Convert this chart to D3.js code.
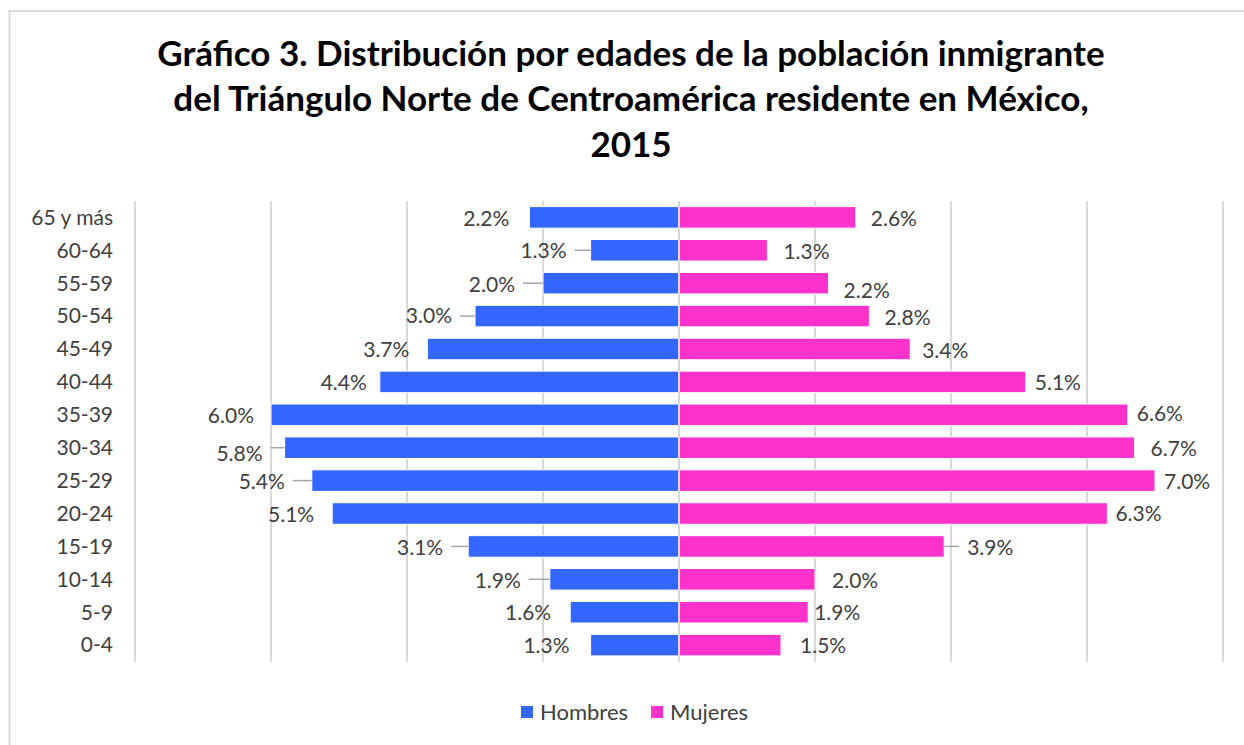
<!DOCTYPE html>
<html>
<head>
<meta charset="utf-8">
<script src="https://cdn.jsdelivr.net/npm/d3@7"></script>
<style>
  html, body { margin: 0; padding: 0; background: #ffffff; }
  svg { display: block; }
</style>
</head>
<body>
<svg id="chart" width="1244" height="745"></svg>
<script>
// ---- Data (top row to bottom row as displayed) ----
const categories = ["65 y más","60-64","55-59","50-54","45-49","40-44","35-39","30-34","25-29","20-24","15-19","10-14","5-9","0-4"];
const hombres = [2.2, 1.3, 2.0, 3.0, 3.7, 4.4, 6.0, 5.8, 5.4, 5.1, 3.1, 1.9, 1.6, 1.3];
const mujeres = [2.6, 1.3, 2.2, 2.8, 3.4, 5.1, 6.6, 6.7, 7.0, 6.3, 3.9, 2.0, 1.9, 1.5];
const seriesNames = ["Hombres", "Mujeres"];
const xTicks = [-8, -6, -4, -2, 0, 2, 4, 6, 8];
const titleLines = [
  "Gráfico 3. Distribución por edades de la población inmigrante",
  "del Triángulo Norte de Centroamérica residente en México,",
  "2015"
];

// ---- Data-label placement (as in the original spreadsheet chart) ----
const hLabelGap = [20, 24, 28, 23, 18, 13, 17, 22, 27, 18, 25, 29, 19, 21];
const hLeader   = [0, 1, 1, 1, 0, 0, 0, 1, 1, 0, 1, 1, 0, 0];
const hLabelDy  = [1, 0, 1, 0, 1, 1, 1, 6, 1, 1, 1, 1, 0, 1];
const mLabelGap = [15, 16, 15, 15, 12, 9, 9, 16, 9, 8, 23, 17, 6, 19];
const mLeader   = [0, 0, 0, 0, 0, 0, 0, 0, 0, 0, 1, 0, 0, 0];
const mLabelDy  = [1, 1, 7, 2, 2, 1, -1, 1, 1, 0, 1, 1, 0, 1];

const colors = { Hombres: "#3366FF", Mujeres: "#FF33CC" };
const textColor = "#404040";
const gridColor = "#D9D9D9";
const fontFamily = "Lato, 'Open Sans', sans-serif";

const svg = d3.select("#chart");

// chart area border (right and bottom edges lie outside the picture)
svg.append("rect")
  .attr("x", 9.5).attr("y", 11)
  .attr("width", 1260).attr("height", 760)
  .attr("fill", "#ffffff")
  .attr("stroke", gridColor).attr("stroke-width", 2);

// ---- Scales ----
const x = d3.scaleLinear().domain([-8, 8]).range([135, 1223]);
const y = d3.scaleBand().domain(categories).range([201, 661.5]).paddingInner(0.345).paddingOuter(0.17);

// ---- Gridlines ----
svg.append("g").selectAll("line").data(xTicks).join("line")
  .attr("x1", d => x(d)).attr("x2", d => x(d))
  .attr("y1", 201).attr("y2", 662)
  .attr("stroke", gridColor).attr("stroke-width", 2);

// ---- Category axis (labels only) ----
const yAxis = d3.axisLeft(y).tickSize(0).tickPadding(0);
const yg = svg.append("g").attr("transform", "translate(113,0)").call(yAxis);
yg.select(".domain").remove();
yg.selectAll("text")
  .attr("fill", textColor)
  .style("font-family", fontFamily)
  .style("font-size", "21px")
  .attr("dy", "0.35em");

// ---- Bars ----
const bh = y.bandwidth();
svg.append("g").selectAll("rect").data(hombres).join("rect")
  .attr("x", d => x(-d))
  .attr("y", (d, i) => y(categories[i]))
  .attr("width", d => x(0) - x(-d))
  .attr("height", bh)
  .attr("fill", colors.Hombres)
  .attr("stroke", "#ffffff").attr("stroke-width", 1);

svg.append("g").selectAll("rect").data(mujeres).join("rect")
  .attr("x", x(0))
  .attr("y", (d, i) => y(categories[i]))
  .attr("width", d => x(d) - x(0))
  .attr("height", bh)
  .attr("fill", colors.Mujeres)
  .attr("stroke", "#ffffff").attr("stroke-width", 1);

// center axis line over bars
svg.append("line")
  .attr("x1", x(0)).attr("x2", x(0))
  .attr("y1", 201).attr("y2", 662)
  .attr("stroke", gridColor).attr("stroke-width", 2);

// ---- Data labels ----
const fmt = d => d.toFixed(1) + "%";
const hl = svg.append("g");
hombres.forEach((d, i) => {
  const cy = y(categories[i]) + bh / 2;
  const end = x(-d);
  const tx = end - hLabelGap[i];
  if (hLeader[i]) {
    hl.append("line")
      .attr("x1", tx + 8).attr("x2", end)
      .attr("y1", cy).attr("y2", cy)
      .attr("stroke", "#A6A6A6").attr("stroke-width", 1.5);
  }
  hl.append("text")
    .attr("x", tx).attr("y", cy + hLabelDy[i])
    .attr("dy", "0.35em")
    .attr("text-anchor", "end")
    .attr("fill", textColor)
    .style("font-family", fontFamily)
    .style("font-size", "21px")
    .text(fmt(d));
});
const ml = svg.append("g");
mujeres.forEach((d, i) => {
  const cy = y(categories[i]) + bh / 2;
  const end = x(d);
  const tx = end + mLabelGap[i];
  if (mLeader[i]) {
    ml.append("line")
      .attr("x1", end).attr("x2", tx - 8)
      .attr("y1", cy).attr("y2", cy)
      .attr("stroke", "#A6A6A6").attr("stroke-width", 1.5);
  }
  ml.append("text")
    .attr("x", tx).attr("y", cy + mLabelDy[i])
    .attr("dy", "0.35em")
    .attr("text-anchor", "start")
    .attr("fill", textColor)
    .style("font-family", fontFamily)
    .style("font-size", "21px")
    .text(fmt(d));
});

// ---- Title ----
const titleG = svg.append("g");
const titleBaselines = [66, 111, 157];
const tTexts = titleG.selectAll("text").data(titleLines).join("text")
  .attr("x", 631)
  .attr("y", (d, i) => titleBaselines[i])
  .attr("text-anchor", "middle")
  .attr("fill", "#000000")
  .style("font-family", fontFamily)
  .style("font-weight", "700")
  .style("font-size", "30px")
  .text(d => d);
// fit first line to original width (~948px)
const len0 = tTexts.nodes()[0].getComputedTextLength();
const fs = 30 * 948 / len0;
tTexts.style("font-size", fs + "px");

// ---- Legend ----
const legend = svg.append("g");
const legendX = [521, 651];
seriesNames.forEach((s, i) => {
  legend.append("rect")
    .attr("x", legendX[i]).attr("y", 706)
    .attr("width", 12).attr("height", 12)
    .attr("fill", colors[s]);
  legend.append("text")
    .attr("x", legendX[i] + 19).attr("y", 712)
    .attr("dy", "0.35em")
    .attr("fill", textColor)
    .style("font-family", fontFamily)
    .style("font-size", "22px")
    .text(s);
});
</script>
</body>
</html>
